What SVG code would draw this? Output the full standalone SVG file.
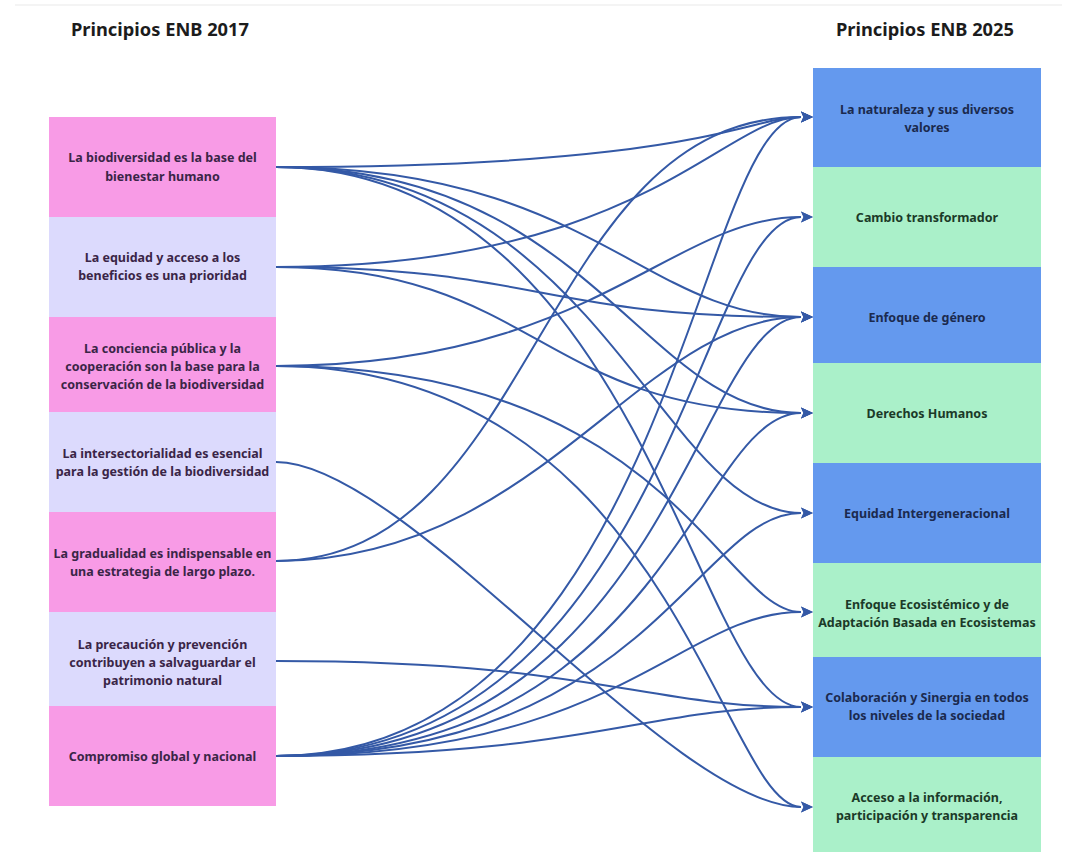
<svg xmlns="http://www.w3.org/2000/svg" width="1078" height="852" viewBox="0 0 1078 852">
<style>
.title{font-family:"Noto Sans","Open Sans",sans-serif;font-weight:700;font-size:18.3px;fill:#1c1c1c;text-anchor:middle}
.lt{font-family:"Noto Sans","Open Sans",sans-serif;font-weight:700;font-size:12.5px;fill:#3a2547;text-anchor:middle}
.rb{font-family:"Noto Sans","Open Sans",sans-serif;font-weight:700;font-size:12.5px;fill:#1b2a4e;text-anchor:middle}
.rg{font-family:"Noto Sans","Open Sans",sans-serif;font-weight:700;font-size:12.5px;fill:#1b3a28;text-anchor:middle}
.pink{fill:#f89be6}
.lav{fill:#dcdafd}
.blue{fill:#6499ee}
.mint{fill:#aaf0c9}
.edge{fill:none;stroke:#3459a6;stroke-width:2;marker-end:url(#arr)}
</style>
<defs>
<marker id="arr" viewBox="0 0 12 12" refX="0" refY="6" markerWidth="12" markerHeight="12" markerUnits="userSpaceOnUse" orient="auto">
<path d="M0,0.5 L12,6 L0,11.5 L2.5,6 z" fill="#3459a6"/>
</marker>
</defs>
<rect width="1078" height="852" fill="#ffffff"/>
<line x1="15" y1="5" x2="1062" y2="5" stroke="#f1f1f1" stroke-width="1.5"/>
<text class="title" x="160" y="36">Principios ENB 2017</text>
<text class="title" x="925" y="36">Principios ENB 2025</text>

<g id="left-1"><rect class="pink" x="49" y="117" width="227" height="100"/><text class="lt" x="162.5" y="162">La biodiversidad es la base del</text><text class="lt" x="162.5" y="181">bienestar humano</text></g>
<g id="left-2"><rect class="lav" x="49" y="217" width="227" height="100"/><text class="lt" x="162.5" y="262">La equidad y acceso a los</text><text class="lt" x="162.5" y="280">beneficios es una prioridad</text></g>
<g id="left-3"><rect class="pink" x="49" y="317" width="227" height="95"/><text class="lt" x="162.5" y="353">La conciencia pública y la</text><text class="lt" x="162.5" y="371">cooperación son la base para la</text><text class="lt" x="162.5" y="389">conservación de la biodiversidad</text></g>
<g id="left-4"><rect class="lav" x="49" y="412" width="227" height="100"/><text class="lt" x="162.5" y="458">La intersectorialidad es esencial</text><text class="lt" x="162.5" y="476">para la gestión de la biodiversidad</text></g>
<g id="left-5"><rect class="pink" x="49" y="512" width="227" height="100"/><text class="lt" x="162.5" y="558">La gradualidad es indispensable en</text><text class="lt" x="162.5" y="576">una estrategia de largo plazo.</text></g>
<g id="left-6"><rect class="lav" x="49" y="612" width="227" height="94"/><text class="lt" x="162.5" y="649">La precaución y prevención</text><text class="lt" x="162.5" y="667">contribuyen a salvaguardar el</text><text class="lt" x="162.5" y="685">patrimonio natural</text></g>
<g id="left-7"><rect class="pink" x="49" y="706" width="227" height="100"/><text class="lt" x="162.5" y="761">Compromiso global y nacional</text></g>

<g id="right-1"><rect class="blue" x="813" y="68" width="228" height="99"/><text class="rb" x="927" y="114">La naturaleza y sus diversos</text><text class="rb" x="927" y="132">valores</text></g>
<g id="right-2"><rect class="mint" x="813" y="167" width="228" height="100"/><text class="rg" x="927" y="222">Cambio transformador</text></g>
<g id="right-3"><rect class="blue" x="813" y="267" width="228" height="96"/><text class="rb" x="927" y="322">Enfoque de género</text></g>
<g id="right-4"><rect class="mint" x="813" y="363" width="228" height="100"/><text class="rg" x="927" y="418">Derechos Humanos</text></g>
<g id="right-5"><rect class="blue" x="813" y="463" width="228" height="100"/><text class="rb" x="927" y="518">Equidad Intergeneracional</text></g>
<g id="right-6"><rect class="mint" x="813" y="563" width="228" height="94"/><text class="rg" x="927" y="609">Enfoque Ecosistémico y de</text><text class="rg" x="927" y="627">Adaptación Basada en Ecosistemas</text></g>
<g id="right-7"><rect class="blue" x="813" y="657" width="228" height="100"/><text class="rb" x="927" y="702">Colaboración y Sinergia en todos</text><text class="rb" x="927" y="720">los niveles de la sociedad</text></g>
<g id="right-8"><rect class="mint" x="813" y="757" width="228" height="95"/><text class="rg" x="927" y="802">Acceso a la información,</text><text class="rg" x="927" y="820">participación y transparencia</text></g>

<g id="connectors">
<path class="edge" d="M276,167 C696,167 748,117 801,117"/>
<path class="edge" d="M276,167 C591,167 643,317 801,317"/>
<path class="edge" d="M276,167 C591,167 643,413 801,413"/>
<path class="edge" d="M276,167 C600,167 660,513 801,513"/>
<path class="edge" d="M276,167 C643,167 696,707 801,707"/>
<path class="edge" d="M276,267 C643,267 722,117 801,117"/>
<path class="edge" d="M276,267 C538,267 538,317 801,317"/>
<path class="edge" d="M276,267 C538,267 538,413 801,413"/>
<path class="edge" d="M276,366 C591,366 670,217 801,217"/>
<path class="edge" d="M276,366 C670,366 722,612 801,612"/>
<path class="edge" d="M276,366 C670,366 722,807 801,807"/>
<path class="edge" d="M276,462 C407,462 670,807 801,807"/>
<path class="edge" d="M276,561 C538,561 538,117 801,117"/>
<path class="edge" d="M276,561 C540,561 640,317 801,317"/>
<path class="edge" d="M276,661 C591,661 643,707 801,707"/>
<path class="edge" d="M276,756 C670,756 696,117 801,117"/>
<path class="edge" d="M276,756 C670,756 696,217 801,217"/>
<path class="edge" d="M276,756 C670,756 696,317 801,317"/>
<path class="edge" d="M276,756 C670,756 696,413 801,413"/>
<path class="edge" d="M276,756 C650,756 696,513 801,513"/>
<path class="edge" d="M276,756 C620,756 680,612 801,612"/>
<path class="edge" d="M276,756 C591,756 643,707 801,707"/>
</g>
</svg>
